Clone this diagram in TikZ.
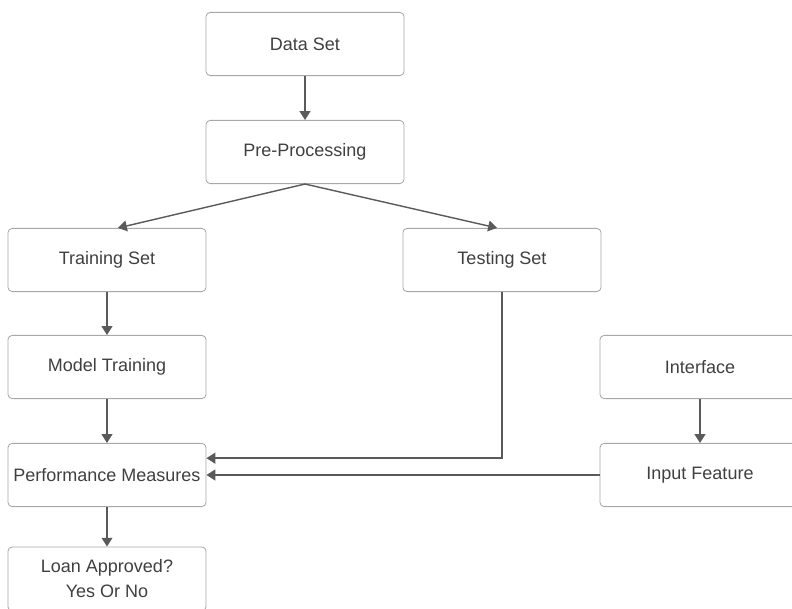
\documentclass[tikz,border=0pt]{standalone}
\usepackage{fontspec}
\setmainfont{Liberation Sans}
\usepackage{xcolor}
\usetikzlibrary{arrows.meta}

\definecolor{boxline}{HTML}{A8A8A8}
\definecolor{arrline}{HTML}{5A5A5A}
\definecolor{txt}{HTML}{404040}

\tikzset{
	stage/.style={draw=boxline, line width=0.6pt, rounded corners=3pt, fill=white,
		minimum width=4.95cm, minimum height=1.58cm, inner sep=0pt, text=txt,
		font=\fontsize{12.8}{17.8}\selectfont, align=center},
	flow/.style={draw=arrline, line width=1pt, -{Triangle[width=0.27cm,length=0.22cm]}}
}

\begin{document}
\begin{tikzpicture}[x=0.025cm, y=-0.025cm]
	\useasboundingbox (0,0) rectangle (792,609);
	
	\node[stage] (data) at (305,44) {Data Set};
	\node[stage] (pre) at (305,152) {Pre-Processing};
	\node[stage] (train) at (107,260) {Training Set};
	\node[stage] (test) at (502,260) {Testing Set};
	\node[stage] (model) at (107,367) {Model Training};
	\node[stage, minimum width=5cm] (iface) at (700,367) {Interface};
	\node[stage] (perf) at (107,475) {Performance Measures};
	\node[stage, minimum width=5cm] (input) at (700,475) {Input Feature};
	\node[stage, minimum height=1.6cm] (loan) at (107,579) {Loan Approved?\\Yes Or No};
	
	\draw[flow] (data) -- (pre);
	\draw[flow] (pre.south) -- ([xshift=0.275cm]train.north);
	\draw[flow] (pre.south) -- ([xshift=-0.125cm]test.north);
	\draw[flow] (train) -- (model);
	\draw[flow] (model) -- (perf);
	\draw[flow] (test.south) |- ([yshift=0.42cm]perf.east);
	\draw[flow] (iface) -- (input);
	\draw[flow] (input) -- (perf);
	\draw[flow] (perf) -- (loan);
\end{tikzpicture}
\end{document}
